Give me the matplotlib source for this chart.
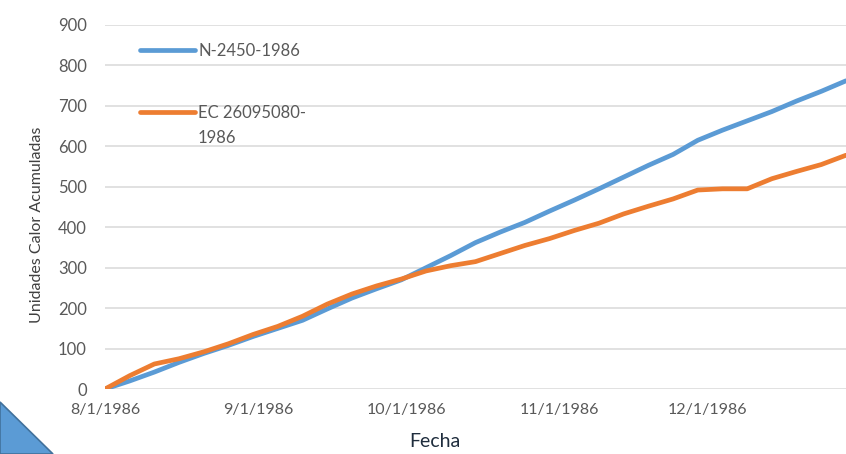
import datetime as dt

import matplotlib
matplotlib.use("Agg")
import matplotlib.pyplot as plt
import matplotlib.dates as mdates
from matplotlib.patches import Polygon
from matplotlib.ticker import FuncFormatter, MultipleLocator


# fechas (cada 5 dias) y unidades calor acumuladas
fechas = [
    "1986-08-01", "1986-08-06", "1986-08-11", "1986-08-16", "1986-08-21",
    "1986-08-26", "1986-08-31", "1986-09-05", "1986-09-10", "1986-09-15",
    "1986-09-20", "1986-09-25", "1986-09-30", "1986-10-05", "1986-10-10",
    "1986-10-15", "1986-10-20", "1986-10-25", "1986-10-30", "1986-11-04",
    "1986-11-09", "1986-11-14", "1986-11-19", "1986-11-24", "1986-11-29",
    "1986-12-04", "1986-12-09", "1986-12-14", "1986-12-19", "1986-12-24",
    "1986-12-29",
]
n2450 = [0, 20, 42, 66, 88, 108, 130, 150, 170, 198, 225, 248, 270, 300,
         330, 362, 388, 412, 440, 467, 495, 524, 553, 580, 615, 640, 663,
         686, 712, 736, 762]
ec26095080 = [0, 33, 62, 75, 92, 112, 135, 155, 180, 210, 235, 255, 272,
              292, 305, 315, 335, 355, 372, 392, 410, 433, 452, 470, 492,
              495, 495, 520, 538, 555, 578]

labels = ["N-2450-1986", "EC 26095080-"]
label_cont = "1986"
colors = ["#5B9BD5", "#ED7D31"]

plt.rcParams["font.family"] = ["Lato", "DejaVu Sans"]

x = [dt.datetime.strptime(f, "%Y-%m-%d") for f in fechas]

fig = plt.figure(figsize=(8.46, 4.54), dpi=100)
ax = fig.add_axes([0.124, 0.143, 0.876, 0.802])

ax.plot(x, n2450, color=colors[0], linewidth=3.4, label=labels[0],
        solid_capstyle="round")
ax.plot(x, ec26095080, color=colors[1], linewidth=3.4, label=labels[1],
        solid_capstyle="round")

ax.set_xlim(x[0], x[-1])
ax.set_ylim(0, 900)
ax.yaxis.set_major_locator(MultipleLocator(100))
ax.xaxis.set_major_locator(mdates.MonthLocator())
ax.xaxis.set_major_formatter(
    FuncFormatter(lambda v, p: "{0.month}/{0.day}/{0.year}".format(mdates.num2date(v))))

ax.grid(axis="y", color="#D9D9D9", linewidth=1.1)
ax.set_axisbelow(True)
for s in ax.spines.values():
    s.set_visible(False)
ax.tick_params(length=0, labelcolor="#595959")
ax.tick_params(axis="y", pad=13, labelsize=12)
ax.tick_params(axis="x", pad=10, labelsize=11.5)

ax.set_ylabel("Unidades Calor Acumuladas", fontsize=11.5, color="#404040")
ax.yaxis.set_label_coords(-0.082, 0.45)
ax.set_xlabel("Fecha", fontsize=14, color="#1F2D3D")
ax.xaxis.set_label_coords(0.445, -0.12)

leg = ax.legend(loc="upper left", bbox_to_anchor=(0.047, 0.95), frameon=False,
                fontsize=12, handlelength=3.3, handletextpad=0.2,
                labelspacing=2.75, borderpad=0, borderaxespad=0)
for t in leg.get_texts():
    t.set_color("#595959")
# segunda linea de la etiqueta naranja, debajo de "EC 26095080-"
# (zorder mayor que la leyenda para que se dibuje despues de ella)
ax.annotate(label_cont, xy=(0, 0), xycoords=leg.get_texts()[1],
            xytext=(0, -9), textcoords="offset pixels", va="top", ha="left",
            fontsize=12, color="#595959", zorder=10)

# triangulo decorativo en la esquina inferior izquierda
tri = Polygon([[0, 52], [0, 0], [53, 0]], closed=True, transform=None,
              facecolor="#5B9BD5", edgecolor="#41719C", linewidth=1.2)
fig.patches.append(tri)

fig.savefig("out.png", dpi=100)
